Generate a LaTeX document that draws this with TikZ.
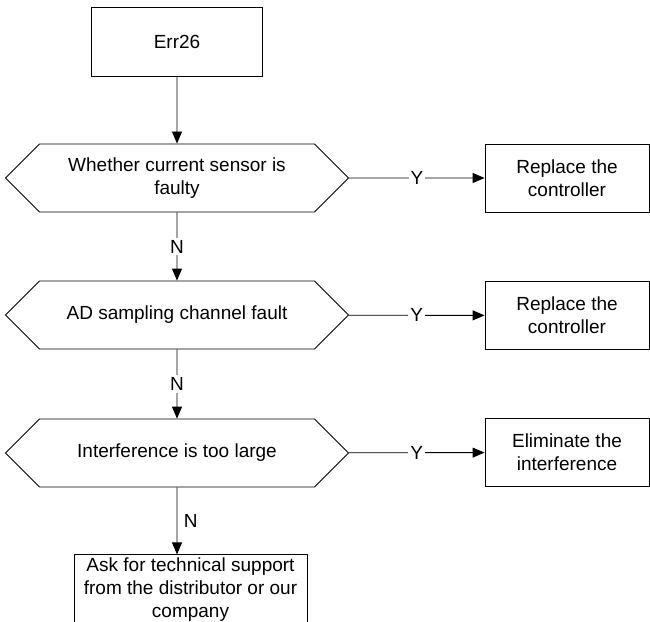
\documentclass[tikz,border=0pt]{standalone}
\usepackage{fontspec}
\setmainfont{Liberation Sans}
\usetikzlibrary{arrows.meta, positioning, shapes.symbols}

\begin{document}
\begin{tikzpicture}[
      x=1pt, y=-1pt,
      every node/.style={font=\fontsize{19}{23}\selectfont},
      box/.style={draw, minimum width=164pt, minimum height=68pt, align=center, inner sep=0pt},
      check/.style={draw, signal, signal to=west and east, signal pointer angle=90,
        minimum width=343pt, minimum height=68pt, align=center, inner sep=0pt},
      lbl/.style={fill=white, inner sep=2pt},
      >={Triangle[length=12pt, width=10pt]}, line width=0.9pt
    ]
      \useasboundingbox (0,0) rectangle (650,621);
      \node[draw, minimum width=171pt, minimum height=69pt] (err) at (177,41.5) {Err26};
      \node[check] (q1) at (177,178) {Whether current sensor is\\faulty};
      \node[check] (q2) at (177,315) {AD sampling channel fault};
      \node[check] (q3) at (177,453) {Interference is too large};
      \node[box] (fix1) at (567,178) {Replace the\\controller};
      \node[box] (fix2) at (567,315.5) {Replace the\\controller};
      \node[box] (fix3) at (567,452.5) {Eliminate the\\interference};
      \node[draw, minimum width=233pt, minimum height=70pt, align=center] (ask) at (190.5,590)
        {Ask for technical support\\from the distributor or our\\company};
      \draw[->] (err) -- (q1);
      \draw[->] (q1) -- node[lbl] {N} (q2);
      \draw[->] (q2) -- node[lbl] {N} (q3);
      \draw[->] (q3) -- node[right, xshift=3pt] {N} (q3 |- ask.north);
      \draw[->] (q1) -- node[lbl] {Y} (fix1);
      \draw[->] (q2) -- node[lbl] {Y} (fix2);
      \draw[->] (q3) -- node[lbl] {Y} (fix3);
    \end{tikzpicture}
\end{document}
